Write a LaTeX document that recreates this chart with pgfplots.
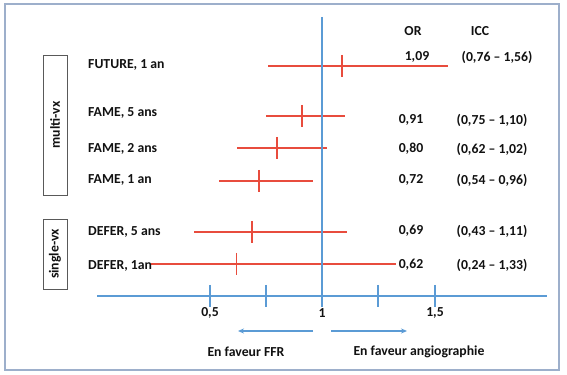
\documentclass[border=0pt]{standalone}
\usepackage{pgfplots}
\pgfplotsset{compat=1.18}
\usepackage{pgfplotstable}
\usepackage{fontspec}
\setmainfont{Carlito}
\usetikzlibrary{arrows.meta}
\definecolor{ciRed}{HTML}{E84C3D}
\definecolor{axBlue}{HTML}{5B9BD5}
\definecolor{frameC}{HTML}{9DAFCB}
\definecolor{txt}{HTML}{111111}
\newcommand\lf{\fontsize{13.8}{16}\selectfont\bfseries}
% y = 296 - pixel row
\pgfplotstableread{
y    or    lo    hi
230  1.09  0.76  1.56
180  0.91  0.75  1.10
148  0.80  0.62  1.02
115  0.72  0.54  0.96
64   0.69  0.43  1.11
32   0.62  0.24  1.33
}\forest
\begin{document}
\begin{tikzpicture}
\useasboundingbox (0,0) rectangle (567bp,375bp);
\begin{axis}[
  at={(97bp,79bp)}, anchor=south west,
  scale only axis, width=450bp, height=279bp,
  xmin=0, xmax=2, ymin=0, ymax=279,
  clip=false,
  axis x line=bottom, axis y line=none,
  x axis line style={-, axBlue, line width=1.6bp},
  xtick=\empty,
]
% axis ticks
\addplot[only marks, mark=|, mark size=11bp,
  mark options={axBlue, line width=2bp}]
  coordinates {(0.5,0) (0.75,0) (1,0) (1.25,0) (1.5,0)};
% odds ratios with confidence intervals
\addplot[only marks, color=ciRed, mark=|, mark size=11bp,
  mark options={line width=1.9bp, ciRed},
  error bars/.cd, x dir=both, x explicit, error mark=none,
  error bar style={line width=1.7bp, ciRed}]
  table[x=or, y=y,
        x error plus expr=\thisrow{hi}-\thisrow{or},
        x error minus expr=\thisrow{or}-\thisrow{lo}] {\forest};
\end{axis}
\begin{scope}[yshift=375bp, x=1bp, y=-1bp]
  % frame
  \draw[frameC, line width=1.2bp] (5,4) rectangle (559,370);
  % vertical reference line at 1
  \draw[axBlue, line width=1.6bp] (322,17) -- (322,296);
  % group boxes
  \draw[black!65, line width=0.8bp] (43,55) rectangle (67,195);
  \draw[black!65, line width=0.8bp] (43,219) rectangle (67,289);
  \node[rotate=90, text=txt, font=\lf] at (55,125) {multi-vx};
  \node[rotate=90, text=txt, font=\lf] at (55,254) {single-vx};
  % row labels
  \begin{scope}[every node/.style={anchor=west, text=txt, font=\lf, inner sep=0pt}]
    \node at (88,65) {FUTURE, 1 an};
    \node at (88,113) {FAME, 5 ans};
    \node at (88,149) {FAME, 2 ans};
    \node at (88,180) {FAME, 1 an};
    \node at (88,232) {DEFER, 5 ans};
    \node at (88,266) {DEFER, 1an};
  \end{scope}
  % OR / ICC columns
  \begin{scope}[every node/.style={text=txt, font=\lf, inner sep=0pt}]
    \node at (413,31) {OR};
    \node at (480,31) {ICC};
    \node at (417,57) {1,09};
    \node at (497,57) {(0,76 – 1,56)};
    \node at (411,120) {0,91};
    \node at (492,120) {(0,75 – 1,10)};
    \node at (411,149) {0,80};
    \node at (492,149) {(0,62 – 1,02)};
    \node at (411,180) {0,72};
    \node at (492,180) {(0,54 – 0,96)};
    \node at (411,231) {0,69};
    \node at (492,231) {(0,43 – 1,11)};
    \node at (411,265) {0,62};
    \node at (492,265) {(0,24 – 1,33)};
    % tick labels
    \node at (210,313) {0,5};
    \node at (322,313) {1};
    \node at (435,313) {1,5};
    % favour labels
    \node at (246,352) {En faveur FFR};
    \node at (419,352) {En faveur angiographie};
  \end{scope}
  % arrows
  \draw[axBlue, line width=1.3bp, -{Stealth[length=6bp, width=5bp]}] (313,331) -- (238,331);
  \draw[axBlue, line width=1.3bp, -{Stealth[length=6bp, width=5bp]}] (331,331) -- (407,331);
\end{scope}
\end{tikzpicture}
\end{document}
